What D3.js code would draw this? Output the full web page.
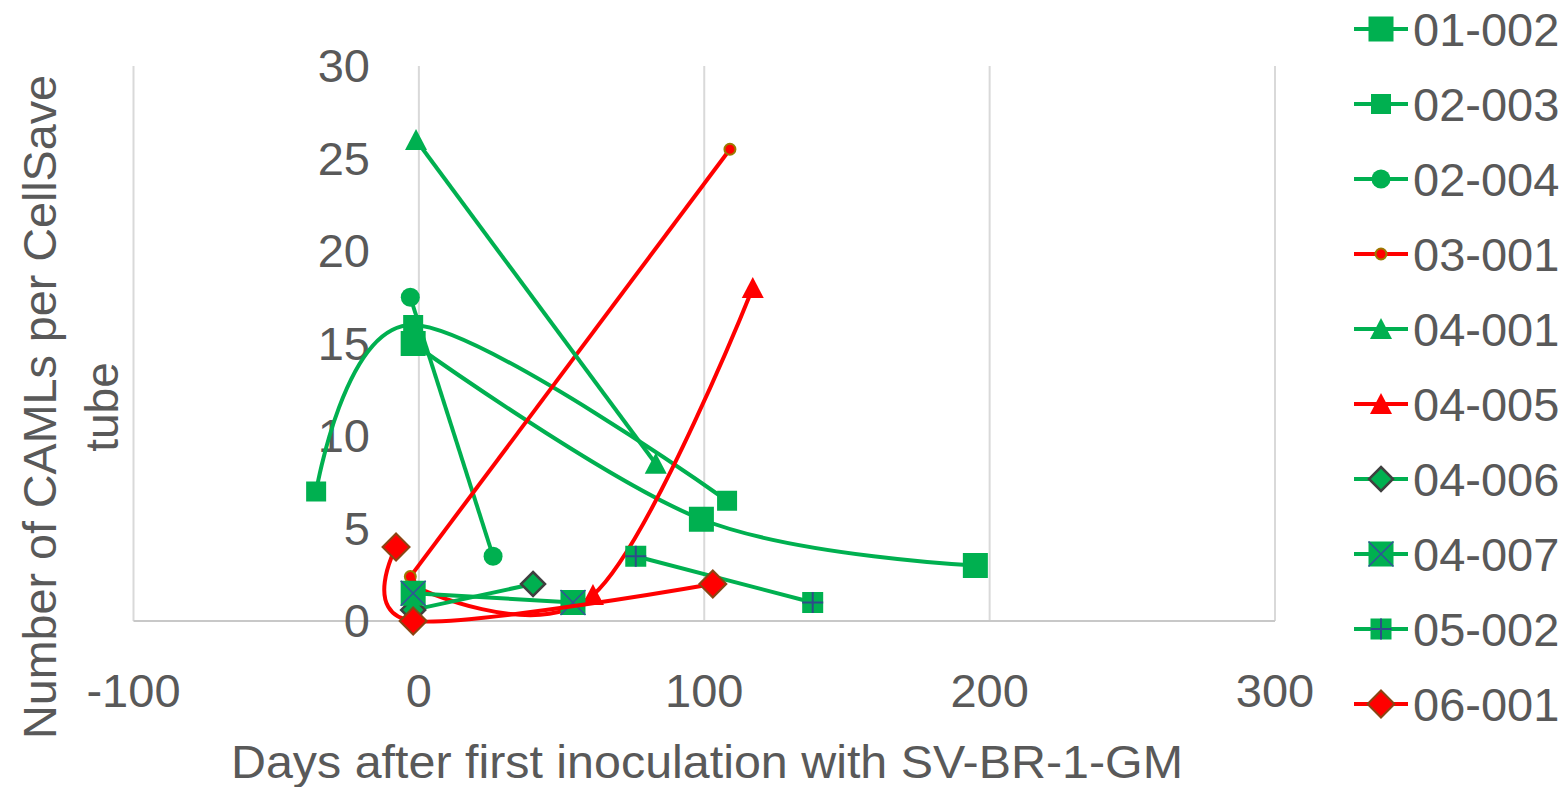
<!DOCTYPE html>
<html>
<head>
<meta charset="utf-8">
<script src="https://cdn.jsdelivr.net/npm/d3@7"></script>
<style>
  html, body { margin: 0; padding: 0; background: #fff; }
  svg { display: block; }
  text { font-family: "Liberation Sans", Arial, sans-serif; fill: #595959; }
</style>
</head>
<body>
<svg id="chart" width="1568" height="787"></svg>
<script>
// Patient series: [days after first inoculation, CAMLs per tube]
const p01_002 = [[-2, 15], [99, 5.5], [195, 3]];
const p02_003 = [[-36, 7], [-2, 16], [108, 6.5]];
const p02_004 = [[-3, 17.5], [26, 3.5]];
const p03_001 = [[-3, 2.4], [109, 25.5]];
const p04_001 = [[-1, 26], [83, 8.5]];
const p04_005 = [[-2, 1.9], [61, 1.4], [117, 18]];
const p04_006 = [[-2, 0.6], [40, 2]];
const p04_007 = [[-2, 1.5], [54, 1]];
const p05_002 = [[76, 3.5], [138, 1]];
const p06_001 = [[-8, 4], [-2, 0], [103, 2]];

const seriesNames = ["01-002", "02-003", "02-004", "03-001", "04-001",
                     "04-005", "04-006", "04-007", "05-002", "06-001"];
const seriesValues = [p01_002, p02_003, p02_004, p03_001, p04_001,
                      p04_005, p04_006, p04_007, p05_002, p06_001];

const xTicks = [-100, 0, 100, 200, 300];
const yTicks = [0, 5, 10, 15, 20, 25, 30];

const GREEN = "#00B050", RED = "#FF0000";

// marker style per series
const styles = [
  { color: GREEN, shape: "square",   size: 25 },
  { color: GREEN, shape: "square",   size: 20 },
  { color: GREEN, shape: "circle",   size: 19 },
  { color: RED,   shape: "circle",   size: 11, stroke: "#9C7A00", sw: 2 },
  { color: GREEN, shape: "triangle", size: 22 },
  { color: RED,   shape: "triangle", size: 22 },
  { color: GREEN, shape: "diamond",  size: 24, stroke: "#404040", sw: 2.5 },
  { color: GREEN, shape: "squareX",  size: 25, mark: "#2F5597" },
  { color: GREEN, shape: "squarePlus", size: 21, mark: "#2F4A8A" },
  { color: RED,   shape: "diamond",  size: 27, stroke: "#8B4513", sw: 2 }
];

const svg = d3.select("#chart");

const x = d3.scaleLinear().domain([-100, 300]).range([133.5, 1275]);
const y = d3.scaleLinear().domain([0, 30]).range([621, 66]);

// vertical gridlines
svg.append("g").selectAll("line").data(xTicks).join("line")
  .attr("x1", d => x(d)).attr("x2", d => x(d))
  .attr("y1", y(30)).attr("y2", y(0))
  .attr("stroke", "#d9d9d9").attr("stroke-width", 2);

// horizontal axis line
svg.append("line")
  .attr("x1", x(-100)).attr("x2", x(300))
  .attr("y1", y(0)).attr("y2", y(0))
  .attr("stroke", "#c8c8c8").attr("stroke-width", 2);

// x tick labels
svg.append("g").selectAll("text").data(xTicks).join("text")
  .attr("x", d => x(d)).attr("y", 707)
  .attr("text-anchor", "middle").attr("font-size", 47)
  .text(d => d);

// y tick labels
svg.append("g").selectAll("text").data(yTicks).join("text")
  .attr("x", 370).attr("y", d => y(d) + 16)
  .attr("text-anchor", "end").attr("font-size", 47)
  .text(d => d);

// axis titles
svg.append("text")
  .attr("x", 707).attr("y", 778)
  .attr("text-anchor", "middle").attr("font-size", 46)
  .attr("textLength", 952).attr("lengthAdjust", "spacingAndGlyphs")
  .text("Days after first inoculation with SV-BR-1-GM");

const yTitle = svg.append("text")
  .attr("transform", "translate(56,407) rotate(-90)")
  .attr("text-anchor", "middle").attr("font-size", 46);
yTitle.append("tspan").attr("x", 0).attr("y", 0)
  .attr("textLength", 664).attr("lengthAdjust", "spacingAndGlyphs")
  .text("Number of CAMLs per CellSave");
yTitle.append("tspan").attr("x", 0).attr("y", 62).text("tube");

function drawMarker(g, st, cx, cy) {
  const s = st.size, h = s / 2;
  let m;
  if (st.shape === "square" || st.shape === "squareX" || st.shape === "squarePlus") {
    m = g.append("rect").attr("x", cx - h).attr("y", cy - h)
      .attr("width", s).attr("height", s);
  } else if (st.shape === "circle") {
    m = g.append("circle").attr("cx", cx).attr("cy", cy).attr("r", h);
  } else if (st.shape === "triangle") {
    m = g.append("path").attr("d",
      `M${cx},${cy - h}L${cx + h},${cy + h * 0.9}L${cx - h},${cy + h * 0.9}Z`);
  } else if (st.shape === "diamond") {
    m = g.append("path").attr("d",
      `M${cx},${cy - h}L${cx + h},${cy}L${cx},${cy + h}L${cx - h},${cy}Z`);
  }
  m.attr("fill", st.color);
  if (st.stroke) m.attr("stroke", st.stroke).attr("stroke-width", st.sw);
  if (st.shape === "squareX") {
    g.append("path").attr("d",
      `M${cx - h},${cy - h}L${cx + h},${cy + h}M${cx + h},${cy - h}L${cx - h},${cy + h}`)
      .attr("stroke", st.mark).attr("stroke-width", 1.6).attr("fill", "none");
  }
  if (st.shape === "squarePlus") {
    g.append("path").attr("d",
      `M${cx},${cy - h}L${cx},${cy + h}M${cx - h},${cy}L${cx + h},${cy}`)
      .attr("stroke", st.mark).attr("stroke-width", 2).attr("fill", "none");
  }
}

const line = d3.line()
  .x(d => x(d[0])).y(d => y(d[1]))
  .curve(d3.curveCatmullRom.alpha(0));

const plot = svg.append("g");
seriesValues.forEach((vals, i) => {
  const st = styles[i];
  const g = plot.append("g");
  g.append("path").datum(vals).attr("d", line)
    .attr("fill", "none").attr("stroke", st.color)
    .attr("stroke-width", 4).attr("stroke-linejoin", "round");
  vals.forEach(d => drawMarker(g, st, x(d[0]), y(d[1])));
});

// legend
const legend = svg.append("g");
seriesNames.forEach((name, i) => {
  const st = styles[i];
  const cy = 29 + i * 75;
  const g = legend.append("g");
  g.append("line").attr("x1", 1354).attr("x2", 1408)
    .attr("y1", cy).attr("y2", cy)
    .attr("stroke", st.color).attr("stroke-width", 4);
  drawMarker(g, st, 1381, cy);
  g.append("text").attr("x", 1413).attr("y", cy + 17)
    .attr("font-size", 47).text(name);
});
</script>
</body>
</html>
